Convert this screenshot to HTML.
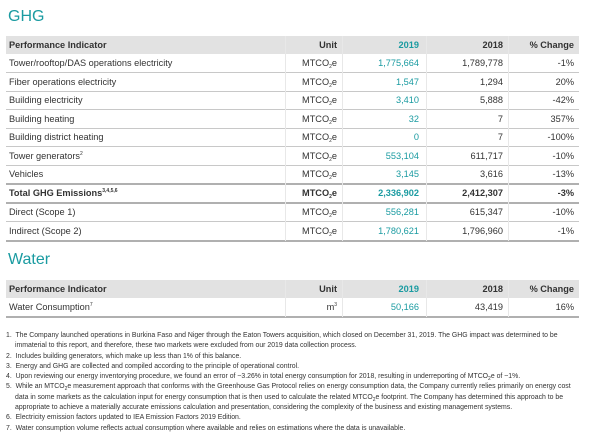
<!DOCTYPE html>
<html><head><meta charset="utf-8"><style>
body{margin:0;width:589px;height:438px;background:#fff;font-family:"Liberation Sans",sans-serif;color:#333;position:relative;overflow:hidden}
.t{position:absolute;left:8px;color:#1a9ba1;font-size:16px}
.tb{position:absolute;left:6px;width:573px}
.r{position:absolute;left:0;width:573px;height:18px;border-bottom:1px solid #c8c8c8;font-size:9.2px}
.h{background:#e2e2e2;font-weight:bold;border-bottom:none}
.r span{position:absolute;top:4px;white-space:nowrap}
.c0{left:3px}.c1{right:242px}.c2{right:160px;color:#1a9ba1}.c3{right:76px}.c4{right:5px}
.sep{position:absolute;top:0;width:1px;height:100%;background:#e8e8e8}
.b{font-weight:bold}
.thick{border-bottom:2px solid #b0b0b0}
sub{font-size:5px;vertical-align:-2px;line-height:0}
sup{font-size:5px;vertical-align:4px;line-height:0}
.fn{position:absolute;left:6px;top:331px;font-size:6.9px;line-height:10.3px;color:#333;white-space:nowrap}
.fn div{padding-left:9px;text-indent:-9px}
</style></head><body>
<div class="t" style="top:8px">GHG</div>
<div class="tb" style="top:36px">
<div class="r h" style="top:0"><span class="c0">Performance Indicator</span><span class="c1">Unit</span><span class="c2">2019</span><span class="c3">2018</span><span class="c4">% Change</span></div>
<div class="r" style="top:18px"><span class="c0">Tower/rooftop/DAS operations electricity</span><span class="c1">MTCO<sub>2</sub>e</span><span class="c2">1,775,664</span><span class="c3">1,789,778</span><span class="c4">-1%</span></div>
<div class="r" style="top:36.5px"><span class="c0">Fiber operations electricity</span><span class="c1">MTCO<sub>2</sub>e</span><span class="c2">1,547</span><span class="c3">1,294</span><span class="c4">20%</span></div>
<div class="r" style="top:55px"><span class="c0">Building electricity</span><span class="c1">MTCO<sub>2</sub>e</span><span class="c2">3,410</span><span class="c3">5,888</span><span class="c4">-42%</span></div>
<div class="r" style="top:73.5px"><span class="c0">Building heating</span><span class="c1">MTCO<sub>2</sub>e</span><span class="c2">32</span><span class="c3">7</span><span class="c4">357%</span></div>
<div class="r" style="top:92px"><span class="c0">Building district heating</span><span class="c1">MTCO<sub>2</sub>e</span><span class="c2">0</span><span class="c3">7</span><span class="c4">-100%</span></div>
<div class="r" style="top:110.5px"><span class="c0">Tower generators<sup>2</sup></span><span class="c1">MTCO<sub>2</sub>e</span><span class="c2">553,104</span><span class="c3">611,717</span><span class="c4">-10%</span></div>
<div class="r thick" style="top:129px"><span class="c0">Vehicles</span><span class="c1">MTCO<sub>2</sub>e</span><span class="c2">3,145</span><span class="c3">3,616</span><span class="c4">-13%</span></div>
<div class="r b thick" style="top:148px"><span class="c0">Total GHG Emissions<sup>3,4,5,6</sup></span><span class="c1">MTCO<sub>2</sub>e</span><span class="c2">2,336,902</span><span class="c3">2,412,307</span><span class="c4">-3%</span></div>
<div class="r" style="top:167px"><span class="c0">Direct (Scope 1)</span><span class="c1">MTCO<sub>2</sub>e</span><span class="c2">556,281</span><span class="c3">615,347</span><span class="c4">-10%</span></div>
<div class="r thick" style="top:185.5px"><span class="c0">Indirect (Scope 2)</span><span class="c1">MTCO<sub>2</sub>e</span><span class="c2">1,780,621</span><span class="c3">1,796,960</span><span class="c4">-1%</span></div>
<div class="sep" style="left:279px;height:205px"></div><div class="sep" style="left:336px;height:205px"></div><div class="sep" style="left:420px;height:205px"></div><div class="sep" style="left:502px;height:205px"></div>
</div>
<div class="t" style="top:251px">Water</div>
<div class="tb" style="top:280px">
<div class="r h" style="top:0"><span class="c0">Performance Indicator</span><span class="c1">Unit</span><span class="c2">2019</span><span class="c3">2018</span><span class="c4">% Change</span></div>
<div class="r thick" style="top:18px"><span class="c0">Water Consumption<sup>7</sup></span><span class="c1">m<sup>3</sup></span><span class="c2">50,166</span><span class="c3">43,419</span><span class="c4">16%</span></div>
<div class="sep" style="left:279px;height:37px"></div><div class="sep" style="left:336px;height:37px"></div><div class="sep" style="left:420px;height:37px"></div><div class="sep" style="left:502px;height:37px"></div>
</div>
<div class="fn">
<div>1.&nbsp; The Company launched operations in Burkina Faso and Niger through the Eaton Towers acquisition, which closed on December 31, 2019. The GHG impact was determined to be<br>immaterial to this report, and therefore, these two markets were excluded from our 2019 data collection process.</div>
<div>2.&nbsp; Includes building generators, which make up less than 1% of this balance.</div>
<div>3.&nbsp; Energy and GHG are collected and compiled according to the principle of operational control.</div>
<div>4.&nbsp; Upon reviewing our energy inventorying procedure, we found an error of ~3.26% in total energy consumption for 2018, resulting in underreporting of MTCO<sub>2</sub>e of ~1%.</div>
<div>5.&nbsp; While an MTCO<sub>2</sub>e measurement approach that conforms with the Greenhouse Gas Protocol relies on energy consumption data, the Company currently relies primarily on energy cost<br>data in some markets as the calculation input for energy consumption that is then used to calculate the related MTCO<sub>2</sub>e footprint. The Company has determined this approach to be<br>appropriate to achieve a materially accurate emissions calculation and presentation, considering the complexity of the business and existing management systems.</div>
<div>6.&nbsp; Electricity emission factors updated to IEA Emission Factors 2019 Edition.</div>
<div>7.&nbsp; Water consumption volume reflects actual consumption where available and relies on estimations where the data is unavailable.</div>
</div>
</body></html>
